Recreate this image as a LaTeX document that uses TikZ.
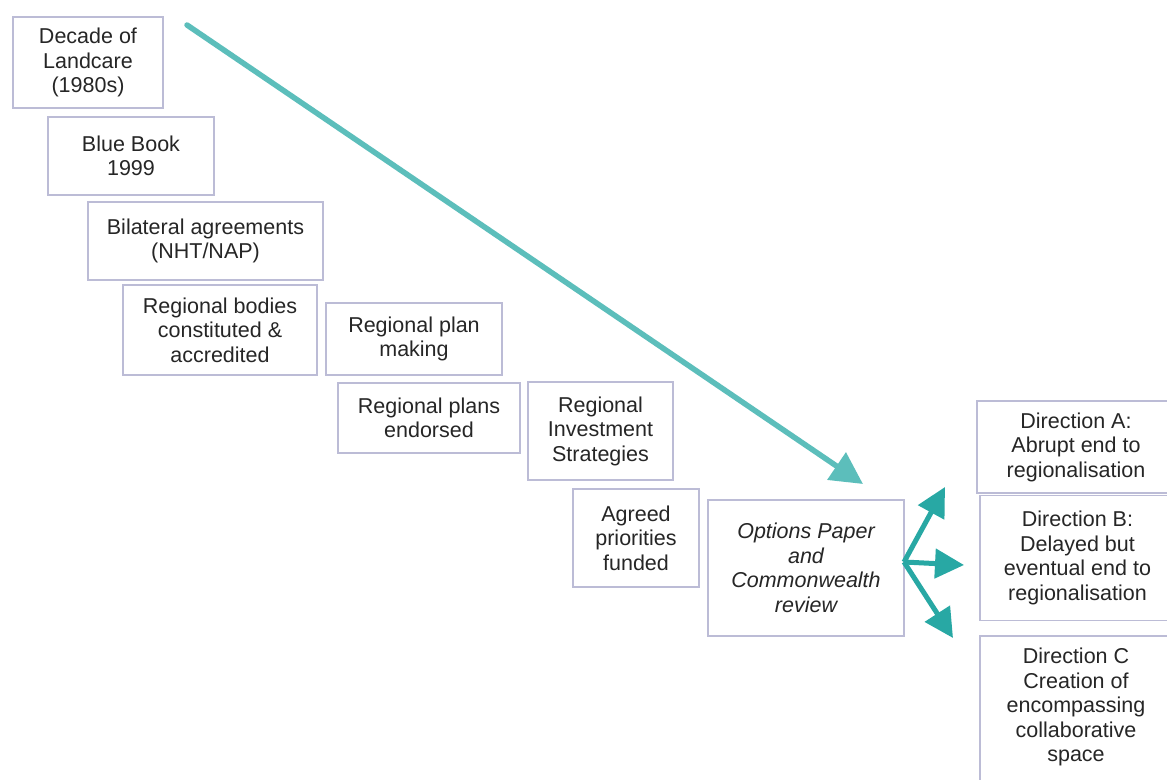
\documentclass[tikz,border=0pt]{standalone}
\usepackage{fontspec}
\setmainfont{Liberation Sans}
\usetikzlibrary{arrows.meta}
\definecolor{boxline}{RGB}{188,188,214}
\definecolor{tealA}{RGB}{92,190,187}
\definecolor{tealB}{RGB}{40,168,164}
\tikzset{
  box/.style={draw=boxline, line width=1.5pt, inner sep=0pt, align=center,
    font=\fontsize{21.5}{24.5}\selectfont, text=black!85},
  mainarrow/.style={draw=tealA, line width=5.5pt, -{Triangle[length=32pt,width=32pt]}},
  subarrow/.style={draw=tealB, line width=5pt, -{Triangle[length=29pt,width=29pt]}}
}
\begin{document}
\begin{tikzpicture}[x=1pt,y=-1pt]
\useasboundingbox (0,0) rectangle (1167,779);
\clip (0,0) rectangle (1167,779);
\fill[white] (0,0) rectangle (1167,779);
\node[box, minimum width=150, minimum height=91] (n1) at (88,62.5) {Decade of\\Landcare\\(1980s)};
\node[box, minimum width=166, minimum height=78] (n2) at (131,156) {Blue Book\\1999};
\node[box, minimum width=235, minimum height=78] (n3) at (205.5,241) {Bilateral agreements\\(NHT/NAP)};
\node[box, minimum width=194, minimum height=90] (n4) at (220,330) {Regional bodies\\constituted \&\\accredited};
\node[box, minimum width=176, minimum height=72] (n5) at (414,339) {Regional plan\\making};
\node[box, minimum width=182, minimum height=70] (n6) at (429,418) {Regional plans\\endorsed};
\node[box, minimum width=145, minimum height=98] (n7) at (600.5,431) {Regional\\Investment\\Strategies};
\node[box, minimum width=126, minimum height=98] (n8) at (636,538) {Agreed\\priorities\\funded};
\node[box, minimum width=196, minimum height=136, font=\fontsize{21.5}{24.5}\selectfont\itshape] (n9) at (806,568) {Options Paper\\and\\Commonwealth\\review};
\node[box, minimum width=198, minimum height=92] (nA) at (1076,447) {Direction A:\\Abrupt end to\\regionalisation};
\node[box, minimum width=195, minimum height=125] (nB) at (1077.5,558) {Direction B:\\Delayed but\\eventual end to\\regionalisation};
\node[box, minimum width=195, minimum height=165, anchor=north] (nC) at (1077.5,635) {};
\node[font=\fontsize{21.5}{24.5}\selectfont, text=black!85, align=center, anchor=north, inner sep=0pt] (nCt) at (1076,648) {Direction C\\Creation of\\encompassing\\collaborative\\space};
\coordinate (s) at (187,25);
\coordinate (t) at (863,484);
\coordinate (o) at (904,562);
\coordinate (tA) at (945,487);
\coordinate (tB) at (964,565);
\coordinate (tC) at (953,638);
\draw[mainarrow, line cap=round] (s) -- (t);
\draw[subarrow] (o) -- (tA);
\draw[subarrow] (o) -- (tB);
\draw[subarrow] (o) -- (tC);
\end{tikzpicture}
\end{document}
